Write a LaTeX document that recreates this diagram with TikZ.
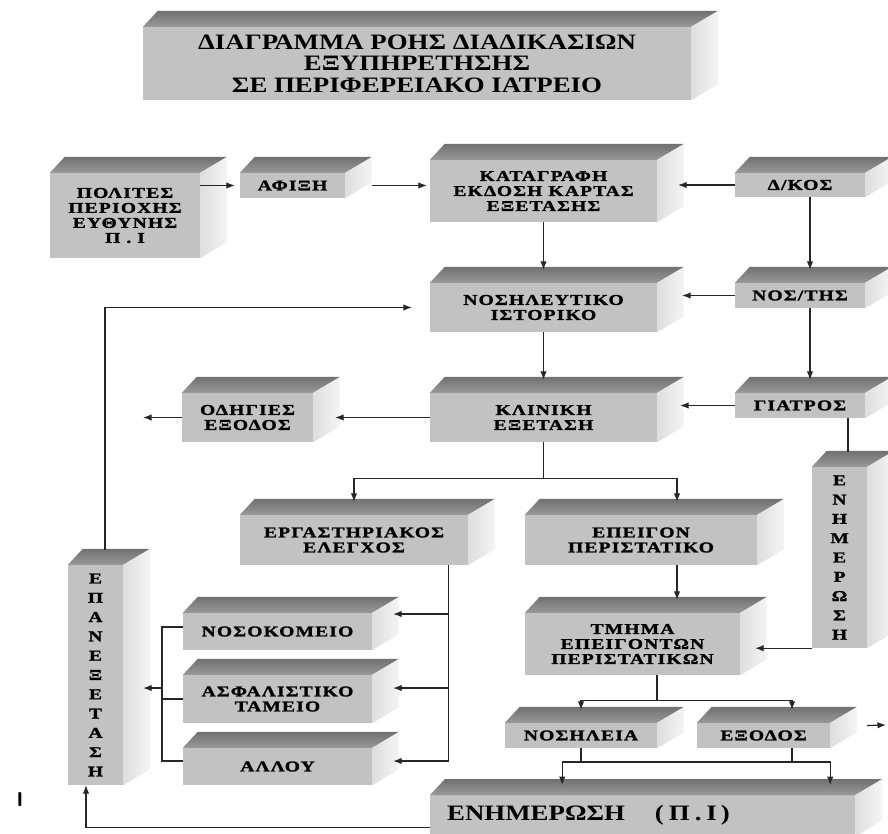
\documentclass[tikz,border=0pt]{standalone}
\usepackage{fontspec}
\setmainfont{Liberation Serif}
\newfontfamily\koutifont{Liberation Serif Bold}[FakeStretch=1.3,LetterSpace=8,FakeBold=1.6]
\newfontfamily\titlosfont{Liberation Serif Bold}[FakeStretch=1.22]
\usetikzlibrary{arrows.meta}
\definecolor{prosopo}{RGB}{194,194,194}
\definecolor{plagia}{RGB}{222,222,222}

\begin{document}
\begin{tikzpicture}[x=1pt, y=-1pt,
    kouti/.style={fill=prosopo, inner sep=0pt, align=center,
      font=\koutifont\fontsize{15}{15}\selectfont},
    orthio/.style={kouti, font=\koutifont\fontsize{15}{19.3}\selectfont},
    megalo/.style={fill=prosopo, inner sep=0pt, align=center,
      font=\titlosfont\fontsize{22}{21.5}\selectfont},
    gr/.style={line width=1.2pt, black!85},
    bel/.style={gr, -{Latex[length=8.5pt, width=6.5pt]}}
  ]
  \useasboundingbox (0,0) rectangle (888,834);
  \clip (0,0) rectangle (888,834);

  \node[megalo, minimum width=548pt, minimum height=73pt] (titlos) at (417,63.5)
    {ΔΙΑΓΡΑΜΜΑ ΡΟΗΣ ΔΙΑΔΙΚΑΣΙΩΝ\\ΕΞΥΠΗΡΕΤΗΣΗΣ\\ΣΕ ΠΕΡΙΦΕΡΕΙΑΚΟ ΙΑΤΡΕΙΟ};

  \node[kouti, minimum width=150pt, minimum height=85pt] (polites) at (125,215.5)
    {ΠΟΛΙΤΕΣ\\ΠΕΡΙΟΧΗΣ\\ΕΥΘΥΝΗΣ\\Π . Ι};
  \node[kouti, minimum width=105pt, minimum height=25pt] (afixi) at (292.5,185.5) {ΑΦΙΞΗ};
  \node[kouti, minimum width=227pt, minimum height=62pt] (katagrafi) at (543.5,191)
    {ΚΑΤΑΓΡΑΦΗ\\ΕΚΔΟΣΗ ΚΑΡΤΑΣ\\ΕΞΕΤΑΣΗΣ};
  \node[kouti, minimum width=130pt, minimum height=24pt] (dikos) at (800,185) {Δ/ΚΟΣ};

  \node[kouti, minimum width=227pt, minimum height=49pt] (nositeutiko) at (543.5,307.5)
    {ΝΟΣΗΛΕΥΤΙΚΟ\\ΙΣΤΟΡΙΚΟ};
  \node[kouti, minimum width=130pt, minimum height=25pt] (nostis) at (800,295.5) {ΝΟΣ/ΤΗΣ};

  \node[kouti, minimum width=227pt, minimum height=49pt] (kliniki) at (543.5,417.5)
    {ΚΛΙΝΙΚΗ\\ΕΞΕΤΑΣΗ};
  \node[kouti, minimum width=131pt, minimum height=49pt] (odigies) at (247.5,417.5)
    {ΟΔΗΓΙΕΣ\\ΕΞΟΔΟΣ};
  \node[kouti, minimum width=130pt, minimum height=25pt] (giatros) at (800,405.5) {ΓΙΑΤΡΟΣ};
  \node[orthio, minimum width=55pt, minimum height=181pt] (enimerosi) at (839.5,557.5)
    {Ε\\Ν\\Η\\Μ\\Ε\\Ρ\\Ω\\Σ\\Η};

  \node[kouti, minimum width=228pt, minimum height=50pt] (ergastiriakos) at (354,540)
    {ΕΡΓΑΣΤΗΡΙΑΚΟΣ\\ΕΛΕΓΧΟΣ};
  \node[kouti, minimum width=232pt, minimum height=50pt] (epeigon) at (641,540)
    {ΕΠΕΙΓΟΝ\\ΠΕΡΙΣΤΑΤΙΚΟ};
  \node[kouti, minimum width=215pt, minimum height=62pt] (tmima) at (632.5,644)
    {ΤΜΗΜΑ\\ΕΠΕΙΓΟΝΤΩΝ\\ΠΕΡΙΣΤΑΤΙΚΩΝ};
  \node[kouti, minimum width=152pt, minimum height=25pt] (nosileia) at (581,735.5) {ΝΟΣΗΛΕΙΑ};
  \node[kouti, minimum width=133pt, minimum height=25pt] (exodos) at (763.5,735.5) {ΕΞΟΔΟΣ};

  \node[kouti, minimum width=189pt, minimum height=37pt] (nosokomeio) at (277.5,631.5) {ΝΟΣΟΚΟΜΕΙΟ};
  \node[kouti, minimum width=189pt, minimum height=48pt] (asfalistiko) at (277.5,699)
    {ΑΣΦΑΛΙΣΤΙΚΟ\\ΤΑΜΕΙΟ};
  \node[kouti, minimum width=189pt, minimum height=37pt] (allou) at (277.5,766.5) {ΑΛΛΟΥ};
  \node[orthio, minimum width=55pt, minimum height=220pt] (epanexetasi) at (95.5,675)
    {Ε\\Π\\Α\\Ν\\Ε\\Ξ\\Ε\\Τ\\Α\\Σ\\Η};

  \node[megalo, anchor=north west, text width=425pt, align=left, minimum height=41pt]
    (enimerosiPI) at (430,795)
    {\hspace*{17pt}ΕΝΗΜΕΡΩΣΗ\hspace{30pt}(\hspace{5pt}Π\hspace{5pt}.\hspace{5pt}Ι\hspace{4pt})};
  \node[font=\sffamily\bfseries\fontsize{20}{20}\selectfont] (gramma) at (20,800) {I};

  % top and side faces of every box
  \foreach \k in {titlos, polites, afixi, katagrafi, dikos, nositeutiko, nostis,
      kliniki, odigies, giatros, enimerosi, ergastiriakos, epeigon, tmima,
      nosileia, exodos, nosokomeio, asfalistiko, allou, epanexetasi, enimerosiPI} {
    \shade[top color=black!56, bottom color=black!40]
      (\k.north west) -- ++(15,-16) -- ([shift={(27,-16)}]\k.north east)
      -- (\k.north east) -- cycle;
    \shade[left color=plagia, right color=black!4]
      (\k.north east) -- ([shift={(27,-16)}]\k.north east)
      -- ([shift={(27,-16)}]\k.south east) -- (\k.south east) -- cycle;
  }

  \coordinate (exodos1) at (143,417.5);
  \coordinate (exodos2) at (886,725);
  \coordinate (aristera) at (162,688);
  \coordinate (syg) at (696,762);

  \draw[bel] (polites.east |- afixi.west) -- ([xshift=-5pt]afixi.west);
  \draw[bel] ([xshift=27pt]afixi.east) -- ([xshift=-3pt]katagrafi.west |- afixi.east);
  \draw[bel] (dikos.west) -- ([xshift=21pt]katagrafi.east |- dikos.west);
  \draw[bel] (katagrafi.south) -- ([yshift=13pt]nositeutiko.north);
  \draw[bel] ([xshift=10pt]dikos.south) -- ([xshift=10pt,yshift=13pt]nostis.north);
  \draw[bel] (nostis.west) -- ([xshift=25pt]nositeutiko.east |- nostis.west);
  \draw[bel] (nositeutiko.south) -- ([yshift=13pt]kliniki.north);
  \draw[bel] ([xshift=10pt]nostis.south) -- ([xshift=10pt,yshift=13pt]giatros.north);
  \draw[bel] (giatros.west) -- ([xshift=23pt]kliniki.east |- giatros.west);
  \draw[bel] (kliniki.west) -- ([xshift=22pt]odigies.east);
  \draw[bel] (odigies.west) -- (exodos1);
  \draw[gr] ([xshift=48pt]giatros.south) -- ([xshift=8.5pt,yshift=15pt]enimerosi.north);
  \draw[bel] (enimerosi.south west) -- ([xshift=15pt]tmima.east |- enimerosi.south west);

  \draw[bel] (kliniki.south) -- ([yshift=-36pt]kliniki.south)
    -| ([yshift=13pt]ergastiriakos.north);
  \draw[bel] ([yshift=-36pt]kliniki.south) -| ([xshift=36pt,yshift=13pt]epeigon.north);
  \draw[bel] ([xshift=36pt]epeigon.south) -- ([xshift=44.5pt,yshift=13pt]tmima.north);

  \draw[bel] ([xshift=24.5pt]tmima.south) -- ([xshift=24.5pt,yshift=-25pt]tmima.south)
    -| ([yshift=13pt]nosileia.north);
  \draw[bel] ([xshift=24.5pt,yshift=-25pt]tmima.south)
    -| ([xshift=28.5pt,yshift=13pt]exodos.north);
  \draw[bel] ([xshift=37pt,yshift=10pt]exodos.east) -- (exodos2);

  \draw[gr] (nosileia.south) -- (nosileia.south |- syg);
  \draw[gr] ([xshift=28.5pt]exodos.south) -- ([xshift=28.5pt]exodos.south |- syg);
  \draw[bel] (syg) -| ([xshift=-80.5pt,yshift=10pt]enimerosiPI.north);
  \draw[bel] (syg) -| ([xshift=187.5pt,yshift=10pt]enimerosiPI.north);

  \draw[bel] ([xshift=-20pt]ergastiriakos.south east)
    |- ([xshift=21pt,yshift=17.5pt]nosokomeio.east);
  \draw[bel] ([xshift=-20pt]ergastiriakos.south east)
    |- ([xshift=21pt,yshift=11pt]asfalistiko.east);
  \draw[bel] ([xshift=-20pt]ergastiriakos.south east)
    |- ([xshift=21pt,yshift=5.5pt]allou.east);

  \draw[gr] ([yshift=4.5pt]nosokomeio.west) -| (aristera);
  \draw[gr] (asfalistiko.west) -| (aristera);
  \draw[gr] ([yshift=5.5pt]allou.west) -| (aristera);
  \draw[bel] (aristera) -- ([xshift=20pt,yshift=-13pt]epanexetasi.east);

  \draw[bel] ([xshift=9.5pt,yshift=15pt]epanexetasi.north)
    |- ([xshift=-18pt]nositeutiko.west);
  \draw[bel] ([yshift=-11.5pt]enimerosiPI.west) -| ([xshift=-9.5pt]epanexetasi.south);
\end{tikzpicture}
\end{document}
